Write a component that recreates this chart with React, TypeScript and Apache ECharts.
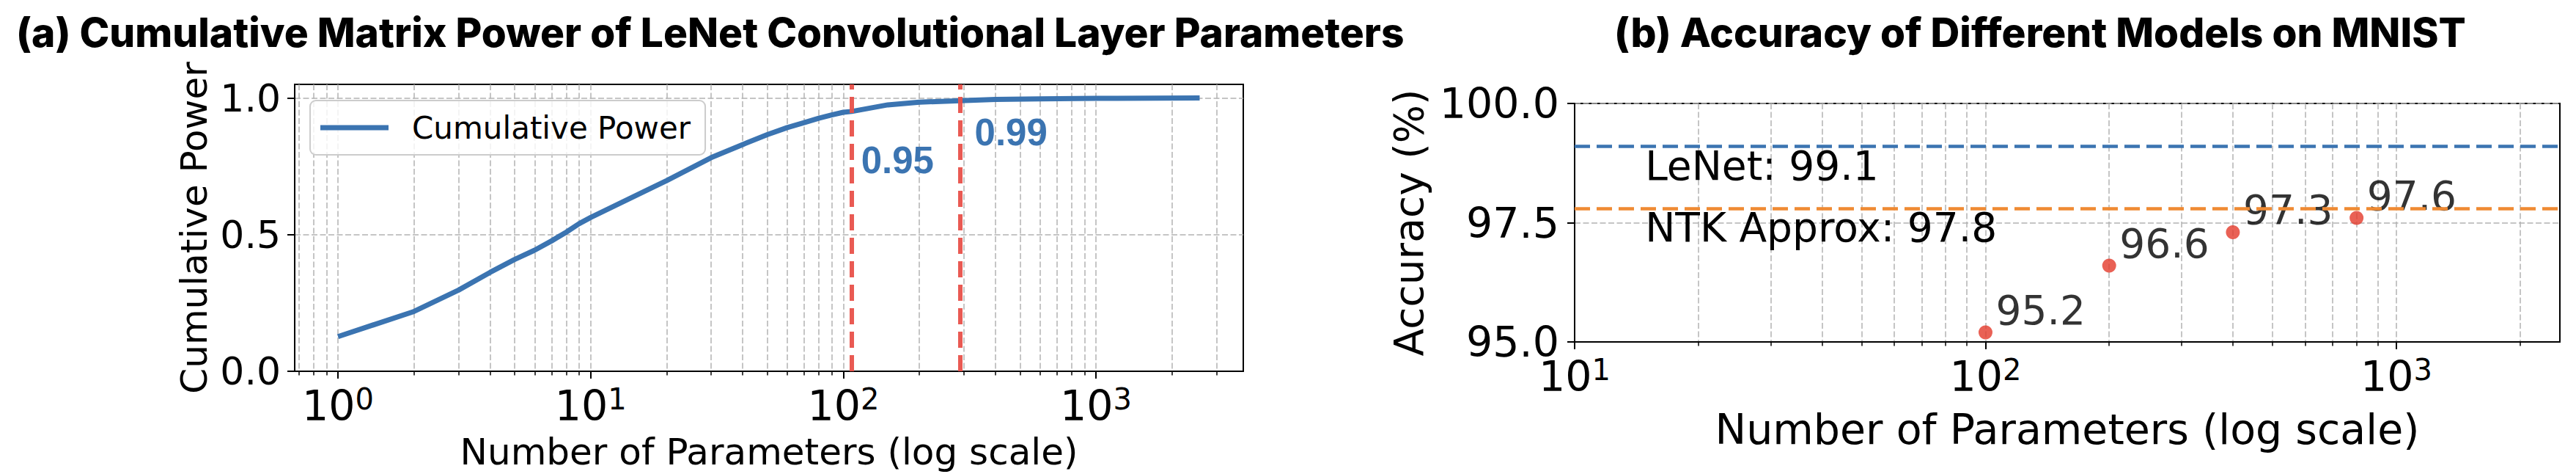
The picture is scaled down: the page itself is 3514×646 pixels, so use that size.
import React, { useEffect, useRef } from "react";
import * as echarts from "echarts";

const titleA = "(a) Cumulative Matrix Power of LeNet Convolutional Layer Parameters";
const titleB = "(b) Accuracy of Different Models on MNIST";

// Panel (a): cumulative matrix power vs number of parameters
const cumParams = [1, 2, 3, 4, 5, 6, 7, 8, 9, 10, 20, 30, 40, 50, 60, 70, 80, 90, 100, 108, 150, 200, 290, 400, 600, 1000, 2572];
const cumPower = [0.127, 0.219, 0.297, 0.362, 0.409, 0.443, 0.477, 0.509, 0.54, 0.563, 0.698, 0.782, 0.83, 0.866, 0.892, 0.91, 0.926, 0.938, 0.948, 0.951, 0.975, 0.985, 0.99, 0.995, 0.997, 0.999, 1.0];
const thresholdParams = [108, 290];
const thresholdText = ["0.95", "0.99"];
const thresholdTextX = [118, 332];
const thresholdTextY = [0.77, 0.873];
const xTicksA = [1, 10, 100, 1000];
const yTicksA = [0, 0.5, 1.0];

// Panel (b): accuracy of models on MNIST
const modelParams = [100, 200, 400, 800];
const modelAccuracy = [95.2, 96.6, 97.3, 97.6];
const refNames = ["LeNet", "NTK Approx"];
const refAccuracy = [99.1, 97.8];
const refTextX = 15;
const xTicksB = [10, 100, 1000];
const yTicksB = [95, 97.5, 100];

const FONT = "DejaVu Sans";
const BLUE = "#3b74b1";
const ORANGE = "#ef8a33";
const RED_LINE = "#e8514a";
const RED_DOT = "#e4392a";
const GRID_GRAY = "#b3b3b3";

const powFormatter = (v: number) => {
  const l = Math.log10(v);
  const e = Math.round(l);
  if (Math.abs(l - e) > 1e-6) return "";
  return `{b|10}{s|${e}}`;
};

const powRich = {
  b: { fontSize: 57, lineHeight: 57, fontFamily: FONT, color: "#000" },
  s: { fontSize: 40, lineHeight: 20, verticalAlign: "top", fontFamily: FONT, color: "#000" },
};

const gridLine = { show: true, lineStyle: { color: GRID_GRAY, width: 1.5, type: [8, 3.5] } };

function logXAxis(gridIndex: number, min: number, max: number, ticks: number[], name: string, nameSize: number, nameGap: number) {
  return {
    type: "log",
    logBase: 10,
    gridIndex,
    min,
    max,
    axisLine: { show: true, lineStyle: { color: "#000", width: 2 } },
    axisTick: { show: true, length: 10, lineStyle: { color: "#000", width: 2 }, customValues: ticks },
    minorTick: { show: true, splitNumber: 9, length: 5.5, lineStyle: { color: "#000", width: 1.5 } },
    splitLine: gridLine,
    minorSplitLine: gridLine,
    axisLabel: { margin: 18, customValues: ticks, formatter: powFormatter, rich: powRich },
    name,
    nameLocation: "middle",
    nameGap,
    nameTextStyle: { fontSize: nameSize, fontFamily: FONT, color: "#000" },
  };
}

function valueYAxis(gridIndex: number, min: number, max: number, interval: number, ticks: number[], labelSize: number, margin: number, name: string, nameSize: number, nameGap: number) {
  return {
    type: "value",
    gridIndex,
    min,
    max,
    interval,
    axisLine: { show: true, lineStyle: { color: "#000", width: 2 } },
    axisTick: { show: true, length: 10, lineStyle: { color: "#000", width: 2 }, customValues: ticks },
    splitLine: gridLine,
    axisLabel: {
      margin,
      customValues: ticks,
      fontSize: labelSize,
      fontFamily: FONT,
      color: "#000",
      formatter: (v: number) => v.toFixed(1),
    },
    name,
    nameLocation: "middle",
    nameGap,
    nameTextStyle: { fontSize: nameSize, fontFamily: FONT, color: "#000" },
  };
}

export default function App() {
  const ref = useRef<HTMLDivElement>(null);

  useEffect(() => {
    document.body.style.margin = "0";
    if (!ref.current) return;
    const chart = echarts.init(ref.current, undefined, { renderer: "svg" });

    const option = {
      animation: false,
      backgroundColor: "#fff",
      textStyle: { fontFamily: FONT },
      grid: [
        { left: 402, top: 115, width: 1294, height: 392, show: true, borderColor: "#000", borderWidth: 2, backgroundColor: "transparent" },
        { left: 2148, top: 141, width: 1344, height: 325, show: true, borderColor: "#000", borderWidth: 2, backgroundColor: "transparent" },
      ],
      xAxis: [
        logXAxis(0, 0.674, 3828, xTicksA, "Number of Parameters (log scale)", 50, 85),
        logXAxis(1, 10, 2500, xTicksB, "Number of Parameters (log scale)", 57, 90),
      ],
      yAxis: [
        valueYAxis(0, 0, 1.05, 0.5, yTicksA, 52, 19, "Cumulative Power", 50, 112),
        valueYAxis(1, 95, 100, 2.5, yTicksB, 57, 21, "Accuracy (%)", 55, 199),
      ],
      legend: {
        show: true,
        data: [{ name: "Cumulative Power", icon: "rect" }],
        left: 423,
        top: 137,
        itemWidth: 93,
        itemHeight: 7,
        padding: [16, 20, 16, 14],
        backgroundColor: "rgba(255,255,255,0.8)",
        borderColor: "#cccccc",
        borderWidth: 2,
        borderRadius: 8,
        selectedMode: false,
        itemStyle: { color: BLUE, borderWidth: 0 },
        textStyle: { fontSize: 42, fontFamily: FONT, color: "#000", padding: [0, 0, 0, 27] },
      },
      series: [
        {
          type: "line",
          name: "Cumulative Power",
          xAxisIndex: 0,
          yAxisIndex: 0,
          data: cumParams.map((p, i) => [p, cumPower[i]]),
          symbol: "none",
          showSymbol: false,
          lineStyle: { width: 7, color: BLUE },
          itemStyle: { color: BLUE },
          z: 3,
          markLine: {
            silent: true,
            symbol: ["none", "none"],
            label: { show: false },
            lineStyle: { color: RED_LINE, width: 6, type: [22, 10], opacity: 0.95 },
            data: thresholdParams.map((v) => ({ xAxis: v })),
          },
          markPoint: {
            silent: true,
            symbol: "circle",
            symbolSize: 1,
            itemStyle: { color: "rgba(0,0,0,0)" },
            data: thresholdText.map((t, i) => ({
              coord: [thresholdTextX[i], thresholdTextY[i]],
              label: {
                show: true,
                formatter: t,
                position: [0, 0],
                align: "left",
                verticalAlign: "middle",
                fontSize: 51,
                fontWeight: "bold",
                fontFamily: "Liberation Sans",
                color: BLUE,
              },
            })),
          },
        },
        {
          type: "scatter",
          name: "Models",
          xAxisIndex: 1,
          yAxisIndex: 1,
          data: modelParams.map((p, i) => [p, modelAccuracy[i]]),
          symbol: "circle",
          symbolSize: 19,
          itemStyle: { color: RED_DOT },
          z: 4,
          label: {
            show: true,
            position: [23.5, -20.8],
            align: "left",
            verticalAlign: "middle",
            fontSize: 55,
            fontFamily: FONT,
            color: "#000",
            formatter: (p: any) => p.value[1].toFixed(1),
          },
          markLine: {
            silent: true,
            symbol: ["none", "none"],
            label: { show: false },
            data: refAccuracy.map((v, i) => ({
              yAxis: v,
              lineStyle: { color: i === 0 ? BLUE : ORANGE, width: 4.5, type: [21, 9] },
            })),
          },
          markPoint: {
            silent: true,
            symbol: "circle",
            symbolSize: 1,
            itemStyle: { color: "rgba(0,0,0,0)" },
            data: refNames.map((n, i) => ({
              coord: [refTextX, refAccuracy[i]],
              label: {
                show: true,
                formatter: `${n}: ${refAccuracy[i].toFixed(1)}`,
                position: [-2, 26.6],
                align: "left",
                verticalAlign: "middle",
                fontSize: 55,
                fontFamily: FONT,
                color: "#000",
              },
            })),
          },
        },
      ],
      graphic: [
        {
          type: "text",
          x: 22,
          y: 43.5,
          style: { text: titleA, font: "800 55px Inter", fill: "#000", align: "left", verticalAlign: "middle", textAlign: "left", textVerticalAlign: "middle" },
        },
        {
          type: "text",
          x: 2202,
          y: 43.5,
          style: { text: titleB, font: "800 55px Inter", fill: "#000", align: "left", verticalAlign: "middle", textAlign: "left", textVerticalAlign: "middle" },
        },
      ],
    };

    chart.setOption(option as any);
    return () => chart.dispose();
  }, []);

  return <div ref={ref} style={{ width: 3514, height: 646 }} />;
}
